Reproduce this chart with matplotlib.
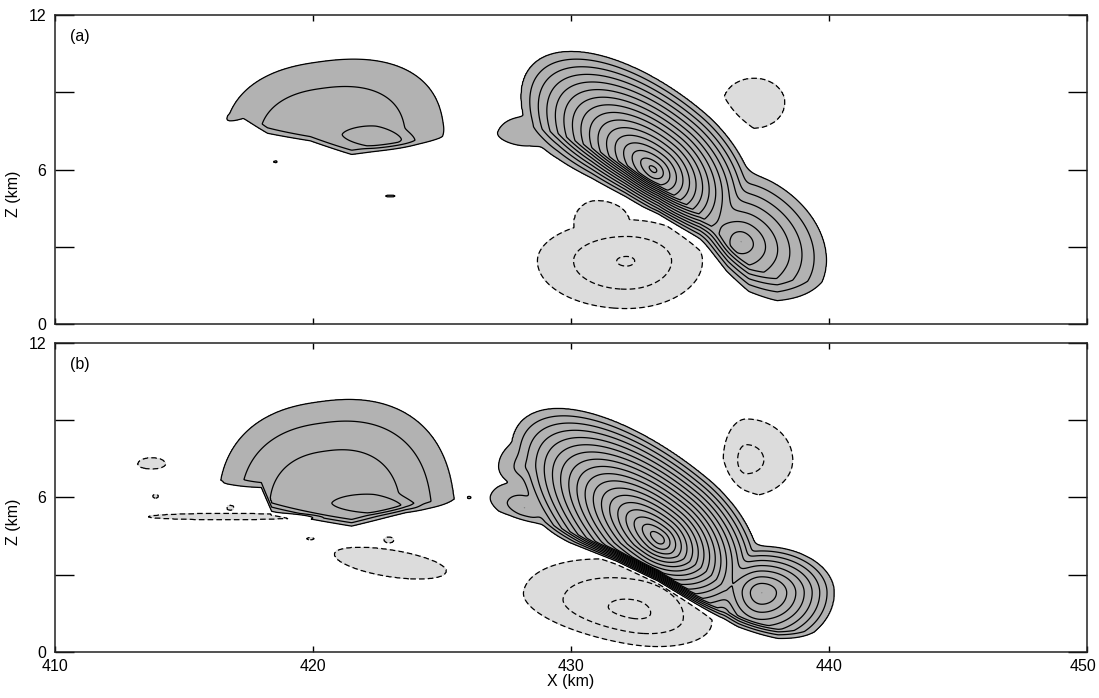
import numpy as np
import matplotlib.pyplot as plt
from matplotlib.transforms import ScaledTranslation

plt.rcParams['font.family'] = ['Liberation Sans', 'DejaVu Sans']

# cell parameters, one tuple per cell:
# (x0 km, z0 km, peak, right, left, up, down, tilt deg, profile exp, shape exp)
# right/left/up/down are the half widths of the outermost contour
a_main_cells = [
    (433.2, 6.0, 16.5, 4.5, 6.2, 2.95, 3.0, -40, 1.0, 2.0),
    (436.6, 3.2, 8.0, 3.5, 3.0, 2.6, 3.2, -30, 1.0, 2.0),
    (428.2, 7.1, 3.0, 1.2, 1.1, 0.9, 0.4, -15, 1.0, 2.0),
]
a_main_edge_x = [425.0, 427.0, 428.4, 429.5, 430.8, 432.1, 433.4, 435.0, 436.9, 438.0, 440.0]
a_main_edge_z = [5.9, 6.0, 6.3, 6.0, 5.45, 4.8, 4.05, 2.85, 0.9, 0.35, 0.2]

a_left_cells = [
    (420.6, 7.1, 2.8, 4.5, 4.0, 3.1, 1.5, 8, 2.0, 2.4),
    (422.4, 7.25, 3.4, 1.8, 1.8, 0.7, 0.6, -5, 3.0, 1.6),
    (417.0, 8.0, 1.5, 0.8, 0.3, 0.2, 0.2, 0, 1.0, 2.0),
]
a_left_edge_x = [415.0, 416.6, 417.3, 418.24, 419.9, 421.5, 424.9, 426.0]
a_left_edge_z = [7.4, 7.45, 7.7, 7.2, 6.95, 6.4, 6.8, 7.1]

a_specks = [
    (418.55, 6.3, 1.2, 0.08, 0.08, 0.04, 0.04, 0, 1.0, 2.0),
    (423.0, 4.97, 1.2, 0.2, 0.2, 0.04, 0.04, 0, 1.0, 2.0),
]
a_down_cells = [
    (437.1, 8.6, 1.5, 1.2, 1.2, 0.95, 1.0, 0, 1.0, 2.0),
    (432.15, 2.45, 3.15, 2.95, 3.45, 1.6, 1.85, 0, 1.2, 2.0),
    (431.0, 3.9, 1.4, 1.3, 0.9, 0.9, 0.9, 0, 1.0, 2.0),
]

b_main_cells = [
    (433.4, 4.4, 19.0, 4.5, 7.0, 3.0, 3.0, -40, 1.0, 2.0),
    (437.4, 2.3, 9.0, 2.8, 2.2, 1.8, 2.2, 0, 1.3, 2.0),
    (428.2, 5.6, 3.0, 1.4, 1.4, 0.9, 0.6, -20, 1.0, 2.0),
    (428.4, 7.2, 3.0, 1.3, 1.2, 1.0, 0.8, 0, 1.0, 2.0),
]
b_main_edge_x = [425.0, 426.9, 427.6, 428.6, 430.16, 431.77, 433.37, 435.78, 438.03, 440.0]
b_main_edge_z = [4.9, 4.9, 4.85, 4.6, 4.0, 3.38, 2.6, 1.05, 0.3, 0.1]

b_left_cells = [
    (420.8, 5.4, 3.9, 4.7, 4.4, 4.35, 2.0, 8, 2.0, 2.4),
    (422.35, 5.7, 4.3, 2.2, 2.2, 0.7, 0.5, -3, 3.0, 1.6),
    (416.7, 6.4, 1.5, 0.6, 0.35, 0.2, 0.2, -10, 1.0, 2.0),
]
b_left_edge_x = [415.0, 418.0, 418.4, 421.5, 423.6, 425.6, 426.5]
b_left_edge_z = [6.15, 6.2, 5.3, 4.75, 5.25, 5.45, 5.6]

b_specks = [
    (426.05, 6.0, 1.2, 0.08, 0.08, 0.05, 0.05, 0, 1.0, 2.0),
]
b_down_cells = [
    (436.8, 7.45, 2.3, 1.8, 0.9, 1.6, 1.4, 0, 1.5, 2.0),
    (432.4, 1.6, 3.4, 3.1, 4.3, 1.9, 1.3, -10, 1.2, 2.0),
    (413.75, 7.3, 1.3, 0.55, 0.55, 0.25, 0.2, 0, 1.0, 2.0),
    (416.6, 5.25, 1.25, 3.0, 3.0, 0.14, 0.12, 0, 1.0, 2.0),
    (423.0, 3.47, 1.4, 2.2, 2.2, 0.5, 0.55, -9, 1.0, 2.0),
    (413.9, 6.05, 1.2, 0.12, 0.12, 0.08, 0.08, 0, 1.0, 2.0),
    (416.8, 5.6, 1.2, 0.15, 0.15, 0.1, 0.1, 0, 1.0, 2.0),
    (422.95, 4.35, 1.2, 0.2, 0.2, 0.12, 0.12, 0, 1.0, 2.0),
    (419.9, 4.4, 1.2, 0.15, 0.15, 0.05, 0.05, 0, 1.0, 2.0),
]

panel_labels = ['(a)', '(b)']
x_ticks = [410, 420, 430, 440, 450]
z_ticks = [0, 3, 6, 9, 12]
z_tick_labels = ['0', '', '6', '', '12']

X, Z = np.meshgrid(np.linspace(410, 450, 1001), np.linspace(0, 12, 601))


def cell(x0, z0, peak, ap, an, bp, bn, ang, q, m):
    t = np.deg2rad(ang)
    u = (X - x0) * np.cos(t) + (Z - z0) * np.sin(t)
    v = -(X - x0) * np.sin(t) + (Z - z0) * np.cos(t)
    uu = np.abs(u / np.where(u >= 0, ap, an))
    vv = np.abs(v / np.where(v >= 0, bp, bn))
    r = (uu ** m + vv ** m) ** (1.0 / m)
    inner = 1 + (peak - 1) * (1 - np.minimum(r, 1) ** q)
    return np.where(r <= 1, inner, np.clip(1 - (r - 1) * 3, 0, None))


def group(cells, ex=None, ez=None, w=1.0, p=6):
    s = sum(cell(*c) ** p for c in cells) ** (1.0 / p)
    if ex is None:
        return s
    return s * np.clip((Z - np.interp(X, ex, ez)) / w, 0, 1)


def build_field(pos_groups, down):
    pos = np.max(pos_groups, axis=0)
    neg = np.max([cell(*c) for c in down], axis=0)
    return pos - neg


fields = [
    build_field([group(a_main_cells, a_main_edge_x, a_main_edge_z, 1.4),
                 group(a_left_cells, a_left_edge_x, a_left_edge_z, 0.45),
                 group(a_specks)], a_down_cells),
    build_field([group(b_main_cells, b_main_edge_x, b_main_edge_z, 0.6),
                 group(b_left_cells, b_left_edge_x, b_left_edge_z, 0.5),
                 group(b_specks)], b_down_cells),
]

fig = plt.figure(figsize=(10.99, 6.98), dpi=100)
rects = [[0.050, 0.5358, 0.939, 0.4427], [0.050, 0.0659, 0.939, 0.4427]]

for i, (F, rect) in enumerate(zip(fields, rects)):
    ax = fig.add_axes(rect)
    ax.contourf(X, Z, F, levels=[1, 100], colors=['#b2b2b2'])
    ax.contourf(X, Z, F, levels=[-100, -1], colors=['#dcdcdc'])
    ax.contour(X, Z, F, levels=np.arange(1, 21), colors='black',
               linewidths=0.9, linestyles='solid')
    ax.contour(X, Z, F, levels=[-4, -3, -2, -1], colors='black',
               linewidths=0.9, linestyles=[(0, (4.5, 2.5))])
    ax.set_xlim(410, 450)
    ax.set_ylim(0, 12)
    ax.set_xticks(x_ticks)
    ax.set_yticks(z_ticks)
    ax.set_yticklabels(z_tick_labels)
    ax.tick_params(axis='y', direction='in', length=14, width=1,
                   left=True, right=True, labelsize=11.5, pad=6)
    ax.tick_params(axis='x', direction='in', length=4.5, width=1,
                   top=True, bottom=True, labelsize=11.5, pad=5)
    if i == 0:
        ax.set_xticklabels([])
    else:
        ax.set_xlabel('X (km)', fontsize=11.5, labelpad=0)
        last = ax.get_xticklabels()[-1]
        last.set_transform(last.get_transform()
                           + ScaledTranslation(-4 / 100, 0, fig.dpi_scale_trans))
    ax.set_ylabel('Z (km)', fontsize=11.5)
    ax.yaxis.set_label_coords(-0.033, 0.42)
    for s in ax.spines.values():
        s.set_linewidth(1.1)
        s.set_color('#222222')
    ax.text(0.0145, 0.932, panel_labels[i], transform=ax.transAxes,
            fontsize=11.5, va='center', ha='left')

fig.savefig('out.png', dpi=100)
